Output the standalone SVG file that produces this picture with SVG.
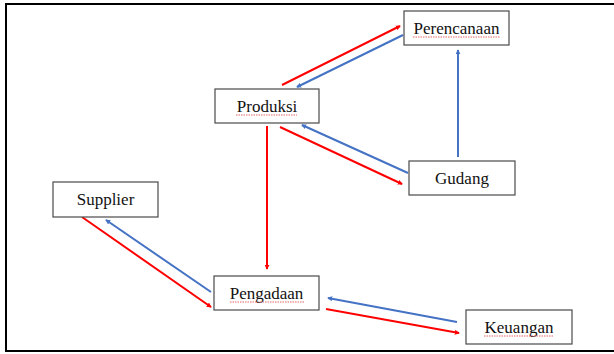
<svg xmlns="http://www.w3.org/2000/svg" width="614" height="354" viewBox="0 0 614 354">
<style>
.box{fill:#fff;stroke:#4a4a4a;stroke-width:1.2}
.lbl{font-family:"Liberation Serif","Times New Roman",serif;font-size:17px;fill:#111;text-anchor:middle}
.sq{fill:none;stroke:#e04040;stroke-width:0.8;stroke-dasharray:1.5 1}
.r{stroke:#ff0000;stroke-width:2;fill:none;marker-end:url(#ar)}
.b{stroke:#4472c4;stroke-width:2;fill:none;marker-end:url(#ab)}
</style>
<defs>
<marker id="ar" viewBox="0 0 6 6" refX="5" refY="3" markerWidth="5" markerHeight="5" markerUnits="userSpaceOnUse" orient="auto"><path d="M0,0 L6,3 L0,6 Z" fill="#ff0000"/></marker>
<marker id="ab" viewBox="0 0 6 6" refX="5" refY="3" markerWidth="5" markerHeight="5" markerUnits="userSpaceOnUse" orient="auto"><path d="M0,0 L6,3 L0,6 Z" fill="#4472c4"/></marker>
</defs>
<rect x="0" y="0" width="614" height="354" fill="#fff"/>
<path d="M614,4 H6 V351 H614" fill="none" stroke="#000" stroke-width="2"/>
<g id="connectors">
<line class="r" x1="282" y1="85" x2="400" y2="26"/>
<line class="b" x1="403" y1="35" x2="297" y2="87"/>
<line class="r" x1="280" y1="127" x2="402" y2="184"/>
<line class="b" x1="408" y1="173" x2="302" y2="125"/>
<line class="b" x1="458" y1="157" x2="458" y2="50"/>
<line class="r" x1="267" y1="126" x2="267" y2="269"/>
<line class="r" x1="82" y1="217" x2="211" y2="307"/>
<line class="b" x1="211" y1="292" x2="106" y2="220"/>
<line class="b" x1="457" y1="322" x2="328" y2="298"/>
<line class="r" x1="326" y1="309" x2="459" y2="333"/>
</g>
<g id="perencanaan">
<rect class="box" x="404" y="11" width="105" height="34"/>
<text class="lbl" x="456.5" y="34">Perencanaan</text>
<path class="sq" d="M413,37 H500"/>
</g>
<g id="produksi">
<rect class="box" x="215" y="89" width="104" height="34"/>
<text class="lbl" x="267" y="112">Produksi</text>
<path class="sq" d="M236,115 H297"/>
</g>
<g id="gudang">
<rect class="box" x="409" y="161" width="106" height="34"/>
<text class="lbl" x="462" y="184">Gudang</text>
</g>
<g id="supplier">
<rect class="box" x="53" y="182" width="105" height="35"/>
<text class="lbl" x="105.5" y="205">Supplier</text>
</g>
<g id="pengadaan">
<rect class="box" x="214" y="276" width="105" height="34"/>
<text class="lbl" x="266.5" y="299">Pengadaan</text>
<path class="sq" d="M230,302 H304"/>
</g>
<g id="keuangan">
<rect class="box" x="466" y="310" width="106" height="34"/>
<text class="lbl" x="519" y="333">Keuangan</text>
<path class="sq" d="M484,336 H554"/>
</g>
</svg>
